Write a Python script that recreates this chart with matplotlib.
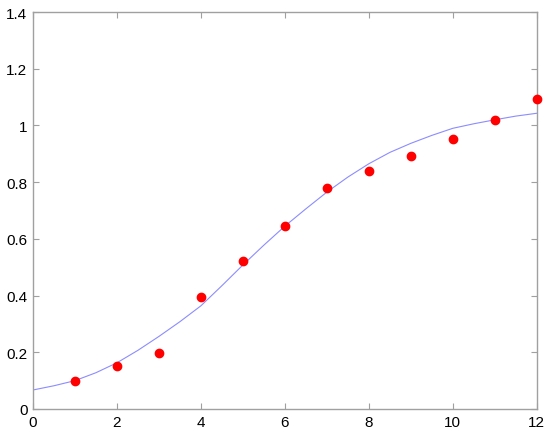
import matplotlib
matplotlib.use("Agg")
import matplotlib.pyplot as plt

# measured data
data_x = [1, 2, 3, 4, 5, 6, 7, 8, 9, 10, 11, 12]
data_y = [0.10, 0.15, 0.198, 0.394, 0.521, 0.647, 0.778, 0.840, 0.893, 0.951, 1.020, 1.095]

# fitted curve
fit_x = [0, 0.5, 1, 1.5, 2, 2.5, 3, 3.5, 4, 4.5, 5, 5.5, 6,
         6.5, 7, 7.5, 8, 8.5, 9, 9.5, 10, 10.5, 11, 11.5, 12]
fit_y = [0.067, 0.082, 0.100, 0.128, 0.163, 0.207, 0.256, 0.308, 0.364,
         0.435, 0.508, 0.578, 0.645, 0.706, 0.765, 0.818, 0.865, 0.905,
         0.937, 0.965, 0.990, 1.006, 1.020, 1.033, 1.043]

xticks = [0, 2, 4, 6, 8, 10, 12]
yticks = [0, 0.2, 0.4, 0.6, 0.8, 1, 1.2, 1.4]
ytick_labels = ["0", "0.2", "0.4", "0.6", "0.8", "1", "1.2", "1.4"]

plt.rcParams["font.family"] = ["Liberation Sans", "DejaVu Sans"]

fig = plt.figure(figsize=(5.5, 4.35), dpi=100)
ax = fig.add_axes([0.06, 0.0575, 0.916, 0.9125])

ax.plot(fit_x, fit_y, color="#8c8cff", linewidth=0.8)
ax.plot(data_x, data_y, "o", color="red", markersize=6, clip_on=False, zorder=3)

ax.set_xlim(0, 12)
ax.set_ylim(0, 1.4)
ax.set_xticks(xticks)
ax.set_yticks(yticks)
ax.set_yticklabels(ytick_labels)

for s in ax.spines.values():
    s.set_color("#a0a0a0")
    s.set_linewidth(1.0)
ax.tick_params(direction="in", length=4, color="#a0a0a0", labelsize=11,
               top=True, right=True, labelcolor="black", pad=4)

fig.savefig("out.png", dpi=100)
